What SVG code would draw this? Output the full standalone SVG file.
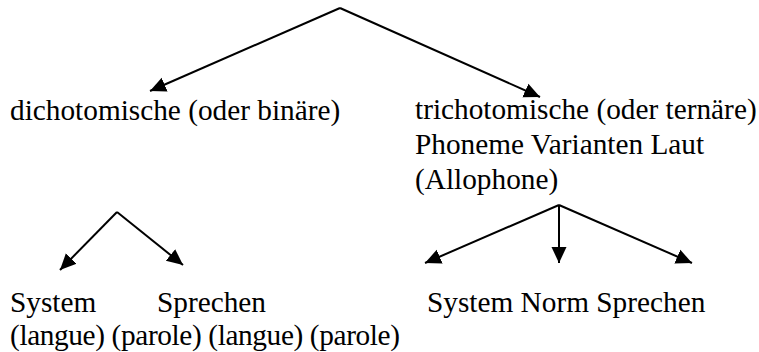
<svg xmlns="http://www.w3.org/2000/svg" width="759" height="352" viewBox="0 0 759 352">
<style>
.t{font-family:'Liberation Serif','Times New Roman',Times,serif;font-size:29.3px;fill:#000}
.c line{stroke:#000;stroke-width:2;fill:none}
</style>
<defs>
<marker id="ah" markerUnits="userSpaceOnUse" markerWidth="17" markerHeight="17" viewBox="0 0 17 17" refX="16" refY="8.5" orient="auto">
<path d="M0,1 L16,8.5 L0,16 Z" fill="#000"/>
</marker>
</defs>
<rect width="759" height="352" fill="#fff"/>
<g class="c" id="connectors">
<line x1="340" y1="8" x2="150" y2="91" marker-end="url(#ah)"/>
<line x1="340" y1="8" x2="540" y2="97" marker-end="url(#ah)"/>
<line x1="117" y1="212" x2="60" y2="270" marker-end="url(#ah)"/>
<line x1="117" y1="212" x2="183" y2="265" marker-end="url(#ah)"/>
<line x1="559" y1="205" x2="425" y2="263" marker-end="url(#ah)"/>
<line x1="559" y1="205" x2="559" y2="263" marker-end="url(#ah)"/>
<line x1="559" y1="205" x2="692" y2="263" marker-end="url(#ah)"/>
</g>
<g id="dicho" class="t"><text x="10" y="120">dichotomische (oder binäre)</text></g>
<g id="tricho" class="t">
<text x="415" y="119">trichotomische (oder ternäre)</text>
<text x="415" y="154">Phoneme Varianten Laut</text>
<text x="415" y="189">(Allophone)</text>
</g>
<g id="left-leaves" class="t">
<text x="10" y="312">System</text>
<text x="157" y="312">Sprechen</text>
<text x="10" y="345" textLength="390" lengthAdjust="spacing">(langue) (parole) (langue) (parole)</text>
</g>
<g id="right-leaves" class="t"><text x="427" y="312">System Norm Sprechen</text></g>
</svg>
